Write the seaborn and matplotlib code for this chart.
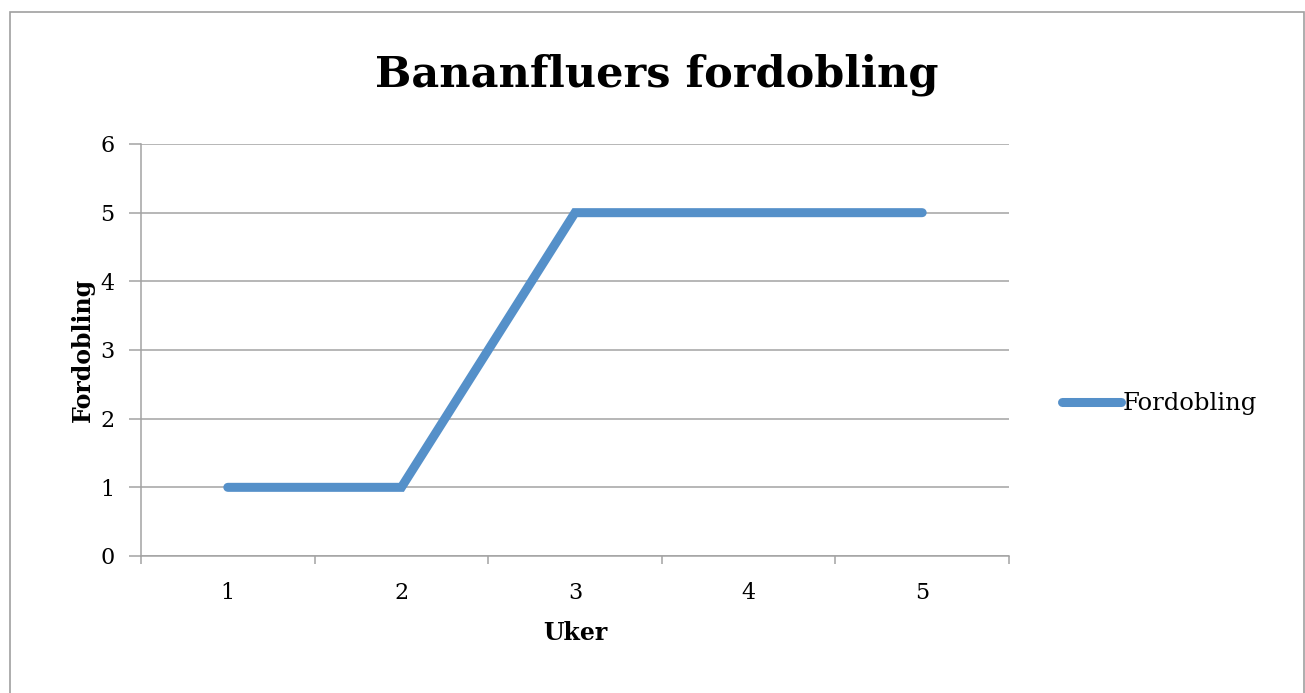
import matplotlib
matplotlib.use("Agg")
import matplotlib.pyplot as plt
from matplotlib.patches import Rectangle
from matplotlib.ticker import FixedLocator, NullFormatter
import seaborn as sns
import pandas as pd

# Data
uker = ["1", "2", "3", "4", "5"]
fordobling = [1, 1, 5, 5, 5]
y_ticks = [0, 1, 2, 3, 4, 5, 6]

sns.set_theme(style="white")
plt.rcParams["font.family"] = ["DejaVu Serif"]
plt.rcParams["text.color"] = "black"
plt.rcParams["axes.labelcolor"] = "black"
plt.rcParams["xtick.labelcolor"] = "black"
plt.rcParams["ytick.labelcolor"] = "black"

df = pd.DataFrame({"Uker": uker, "Fordobling": fordobling})
df["pos"] = range(len(uker))

fig = plt.figure(figsize=(13.05, 6.93), dpi=100)
ax = fig.add_axes([141 / 1305, 1 - 556 / 693, (1009 - 141) / 1305, (556 - 144) / 693])

grid_col = "#a3a3a3"
line_col = "#5590C9"

sns.lineplot(data=df, x="pos", y="Fordobling", ax=ax, color=line_col,
             linewidth=6.5, solid_capstyle="round", solid_joinstyle="miter",
             label="Fordobling", legend=False)

ax.set_xlim(-0.5, len(uker) - 0.5)
ax.set_ylim(0, 6)
ax.set_yticks(y_ticks)
ax.set_yticklabels([str(v) for v in y_ticks], fontsize=16)
ax.yaxis.grid(True, color=grid_col, linewidth=1.1)
ax.set_axisbelow(True)

# category labels centred, tick marks at category boundaries
ax.set_xticks(range(len(uker)))
ax.set_xticklabels(uker, fontsize=16)
ax.tick_params(axis="x", which="major", length=0, pad=19)
ax.xaxis.set_minor_locator(FixedLocator([i - 0.5 for i in range(len(uker) + 1)]))
ax.xaxis.set_minor_formatter(NullFormatter())
ax.tick_params(axis="x", which="minor", bottom=True, length=6, width=1.1, color=grid_col, direction="out")
ax.tick_params(axis="y", left=True, length=9, width=1.1, color=grid_col, direction="out", pad=10)

for side in ["top", "right"]:
    ax.spines[side].set_visible(False)
for side in ["left", "bottom"]:
    ax.spines[side].set_color(grid_col)
    ax.spines[side].set_linewidth(1.1)

ax.set_xlabel("Uker", fontsize=17, fontweight="bold", labelpad=12)
ax.set_ylabel("Fordobling", fontsize=17, fontweight="bold", labelpad=4)

fig.text(657 / 1305, 1 - 75 / 693, "Bananfluers fordobling", ha="center", va="center",
         fontsize=31, fontweight="bold")

handles, labels = ax.get_legend_handles_labels()
leg = fig.legend(handles, labels, loc="center left", bbox_to_anchor=(1052 / 1305, 1 - 404 / 693),
                 frameon=False, fontsize=17.5, handlelength=2.45, handletextpad=0.05, borderaxespad=0)

fig.patches.append(Rectangle((10 / 1305, -0.02), 1294 / 1305, 1.02 - 12 / 693,
                             transform=fig.transFigure, fill=False,
                             edgecolor="#a0a0a0", linewidth=1.2))

fig.savefig("out.png", dpi=100, facecolor="white")
